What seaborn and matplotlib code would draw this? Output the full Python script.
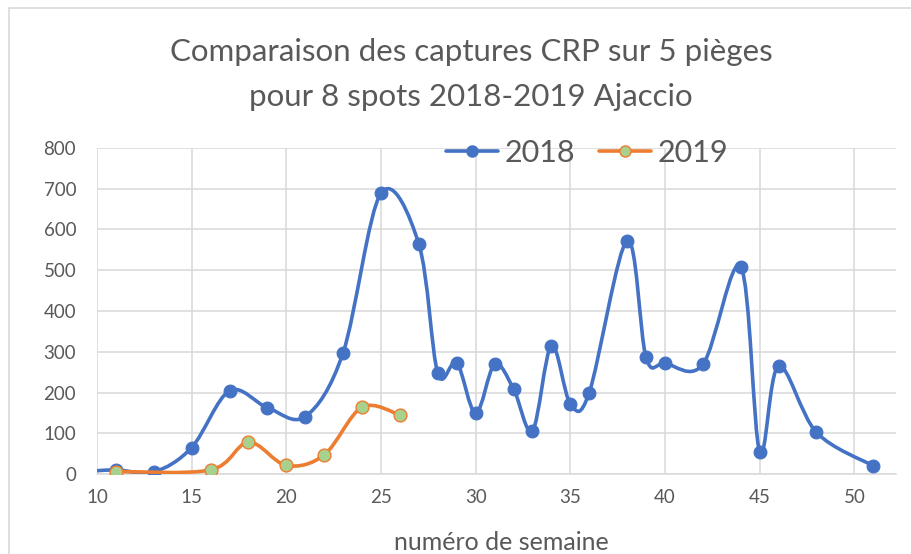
import matplotlib
matplotlib.use('Agg')
import matplotlib.pyplot as plt
import seaborn as sns
import numpy as np
from matplotlib.path import Path
from matplotlib.patches import PathPatch, Rectangle
from matplotlib.lines import Line2D

# weekly catches
weeks_2018 = [9, 11, 13, 15, 17, 19, 21, 23, 25, 27, 28, 29, 30, 31, 32, 33, 34,
              35, 36, 38, 39, 40, 42, 44, 45, 46, 48, 51]
catch_2018 = [5, 10, 5, 65, 204, 163, 141, 298, 689, 564, 247, 273, 149, 269, 209,
              106, 315, 172, 200, 573, 286, 272, 269, 509, 55, 265, 102, 20]
weeks_2019 = [11, 16, 18, 20, 22, 24, 26]
catch_2019 = [6, 10, 78, 21, 47, 164, 145]

x_ticks = [10, 15, 20, 25, 30, 35, 40, 45, 50]
y_ticks = [0, 100, 200, 300, 400, 500, 600, 700, 800]

BLUE = '#4472C4'
ORANGE = '#ED7D31'
GREEN = '#A9D18E'
GREY = '#595959'
GRID = '#D9D9D9'


# smoothed line like excel (catmull-rom as bezier segments)
def smooth_path(xs, ys):
    pts = np.column_stack([xs, ys]).astype(float)
    n = len(pts)
    verts = [pts[0]]
    codes = [Path.MOVETO]
    for i in range(n - 1):
        p0 = pts[max(i - 1, 0)]
        p1 = pts[i]
        p2 = pts[i + 1]
        p3 = pts[min(i + 2, n - 1)]
        verts += [p1 + (p2 - p0) / 6, p2 - (p3 - p1) / 6, p2]
        codes += [Path.CURVE4] * 3
    return Path(verts, codes)


sns.set_theme(style='whitegrid')
plt.rcParams['font.family'] = ['Lato', 'DejaVu Sans']

fig = plt.figure(figsize=(9.11, 5.54), dpi=100)
ax = fig.add_axes([97 / 911, 1 - 474 / 554, 799 / 911, 326 / 554])

ax.add_patch(PathPatch(smooth_path(weeks_2018, catch_2018), fill=False,
                       edgecolor=BLUE, lw=2.6, capstyle='round', zorder=3))
sns.scatterplot(x=weeks_2018, y=catch_2018, ax=ax, color=BLUE, s=85,
                edgecolor=BLUE, linewidth=0.8, zorder=4)

ax.add_patch(PathPatch(smooth_path(weeks_2019, catch_2019), fill=False,
                       edgecolor=ORANGE, lw=2.6, capstyle='round', zorder=5))
sns.scatterplot(x=weeks_2019, y=catch_2019, ax=ax, color=GREEN, s=85,
                edgecolor=ORANGE, linewidth=1.0, zorder=6)

ax.set_xlim(10, 52.2)
ax.set_ylim(0, 800)
ax.set_xticks(x_ticks)
ax.set_yticks(y_ticks)
ax.grid(True, color=GRID, lw=1.1)
ax.set_axisbelow(True)
for s in ['top', 'right', 'left']:
    ax.spines[s].set_visible(False)
ax.spines['bottom'].set_color(GRID)
ax.spines['bottom'].set_linewidth(1.1)
ax.tick_params(axis='y', labelsize=13.5, labelcolor=GREY, pad=15, length=0)
ax.tick_params(axis='x', labelsize=13.5, labelcolor=GREY, pad=11, length=0)
ax.set_xlabel('')
ax.set_ylabel('')

fig.text(471 / 911, 1 - 52 / 554, 'Comparaison des captures CRP sur 5 pièges',
         ha='center', va='center', fontsize=22.5, color=GREY)
fig.text(471 / 911, 1 - 97 / 554, 'pour 8 spots 2018-2019 Ajaccio',
         ha='center', va='center', fontsize=22.5, color=GREY)
fig.text(501 / 911, 1 - 542 / 554, 'numéro de semaine',
         ha='center', va='center', fontsize=18, color=GREY)

handles = [
    Line2D([], [], color=BLUE, lw=2.6, marker='o', markersize=8,
           markerfacecolor=BLUE, markeredgecolor=BLUE),
    Line2D([], [], color=ORANGE, lw=2.6, marker='o', markersize=8,
           markerfacecolor=GREEN, markeredgecolor=ORANGE),
]
leg = fig.legend(handles, ['2018', '2019'], loc='center', ncol=2,
                 bbox_to_anchor=(587 / 911, 1 - 153 / 554), frameon=False,
                 fontsize=22, handlelength=1.7, handletextpad=0.2,
                 columnspacing=0.8, borderpad=0)
for t in leg.get_texts():
    t.set_color(GREY)

# chart border
fig.patches.append(Rectangle((9 / 911, -0.1), 1.2, 1.1 - 8 / 554,
                             transform=fig.transFigure, fill=False,
                             edgecolor=GRID, lw=1.2))

fig.savefig('out.png', dpi=100)
